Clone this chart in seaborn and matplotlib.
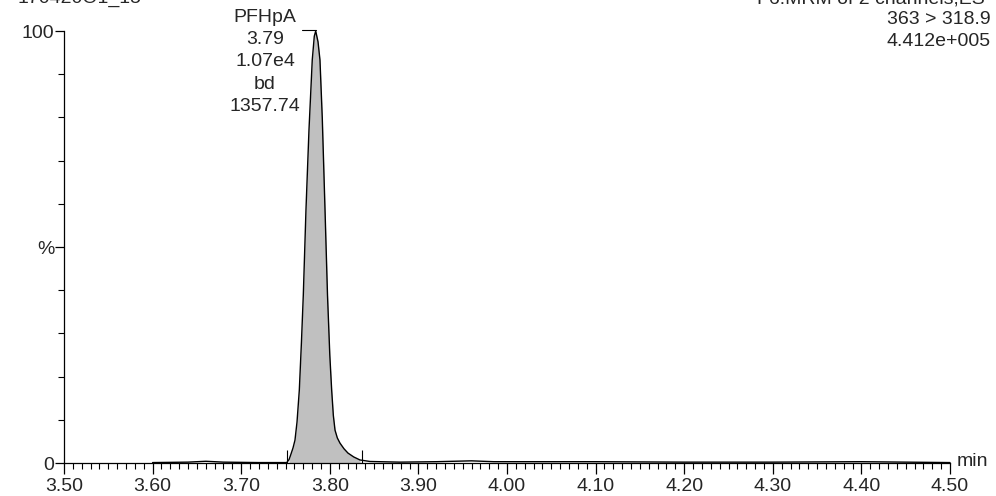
import numpy as np
import pandas as pd
import matplotlib
matplotlib.use("Agg")
import matplotlib.pyplot as plt
import seaborn as sns
from matplotlib.ticker import MultipleLocator, FixedLocator, FixedFormatter

# chromatogram trace (retention time in min, relative intensity in %)
rt = [3.600, 3.640, 3.660, 3.680, 3.720, 3.745, 3.7514, 3.7540, 3.7559, 3.7585,
      3.7607, 3.7630, 3.7656, 3.7680, 3.7701, 3.7731, 3.7765, 3.7802, 3.7825,
      3.7841, 3.7867, 3.7889, 3.7915, 3.7946, 3.7974, 3.8000, 3.8021, 3.8040,
      3.8059, 3.8085, 3.8115, 3.8160, 3.8205, 3.8270, 3.8341, 3.8454, 3.879,
      3.920, 3.960, 3.985, 4.050, 4.100, 4.200, 4.300, 4.400, 4.450, 4.500]
intensity = [0.1, 0.2, 0.4, 0.2, 0.1, 0.1, 0.1, 0.8, 1.9, 3.5,
             5.3, 9.5, 16.9, 28.0, 38.9, 58.6, 77.1, 93.3, 98.8,
             100.0, 97.5, 93.3, 79.9, 58.6, 38.9, 25.0, 16.9, 11.0,
             7.6, 5.8, 4.6, 3.3, 2.3, 1.4, 0.7, 0.35, 0.2,
             0.3, 0.5, 0.3, 0.3, 0.3, 0.2, 0.2, 0.3, 0.2, 0.1]

# integration window of the peak
peak_bounds = [3.7517, 3.836]
apex_rt = 3.7841

peak_label = ["PFHpA", "3.79", "1.07e4", "bd", "1357.74"]
header_left = "170420O1_15"
header_right = ["F6:MRM of 2 channels,ES-", "363 > 318.9", "4.412e+005"]

x_ticks = [3.50, 3.60, 3.70, 3.80, 3.90, 4.00, 4.10, 4.20, 4.30, 4.40, 4.50]

df = pd.DataFrame({"rt": rt, "intensity": intensity})

sns.set_style("ticks")
plt.rcParams['font.family'] = ['Liberation Sans', 'DejaVu Sans']
fs = 14

fig = plt.figure(figsize=(9.96, 4.96), dpi=100)
ax = fig.add_axes([64 / 996, 1 - 463 / 496, 886 / 996, 432 / 496])

# grey fill of the integrated area
pk = df[(df.rt >= peak_bounds[0]) & (df.rt <= peak_bounds[1])]
ax.fill_between(pk.rt, 0, pk.intensity, color="#c0c0c0", lw=0, zorder=1)
sns.lineplot(data=df, x="rt", y="intensity", color="black", lw=1.0, ax=ax,
             zorder=2, clip_on=False)
ax.vlines(peak_bounds, 0, 3.0, color="black", lw=0.8, zorder=3)

ax.set_xlim(3.5, 4.5)
ax.set_ylim(0, 100)
ax.set_xlabel("")
ax.set_ylabel("")

ax.xaxis.set_major_locator(FixedLocator(x_ticks))
ax.set_xticklabels([f"{t:.2f}" for t in x_ticks])
ax.xaxis.set_minor_locator(MultipleLocator(0.01))
ax.yaxis.set_major_locator(FixedLocator([0, 50, 100]))
ax.yaxis.set_major_formatter(FixedFormatter(["0", "%", "100"]))
ax.yaxis.set_minor_locator(MultipleLocator(10))

ax.tick_params(axis="x", which="major", length=8, width=0.9, direction="out",
               labelsize=fs, pad=2.5, color="black")
ax.tick_params(axis="x", which="minor", length=4.5, width=0.8, direction="out",
               color="black")
ax.tick_params(axis="y", which="major", length=6.5, width=0.9, direction="out",
               labelsize=fs, pad=0.5, color="black")
ax.tick_params(axis="y", which="minor", length=4, width=0.8, direction="out",
               color="black")

for s in ["top", "right"]:
    ax.spines[s].set_visible(False)
for s in ["left", "bottom"]:
    ax.spines[s].set_linewidth(0.9)
    ax.spines[s].set_color("black")

# peak annotation
ax.plot([3.7686, apex_rt], [100.2, 100.2], color="black", lw=0.8, clip_on=False)
fig.text(265 / 996, 1 - 9 / 496, "\n".join(peak_label), ha="center", va="top",
         fontsize=fs, linespacing=1.4)

fig.text(17 / 996, 1 + 2 / 496, header_left, ha="left", va="center", fontsize=fs)
for i, line in enumerate(header_right):
    fig.text(991 / 996, 1 - (-1 + 21 * i) / 496, line, ha="right", va="center",
             fontsize=fs)
fig.text(957 / 996, 1 - 462 / 496, "min", ha="left", va="center", fontsize=fs)

fig.savefig("out.png", dpi=100)
